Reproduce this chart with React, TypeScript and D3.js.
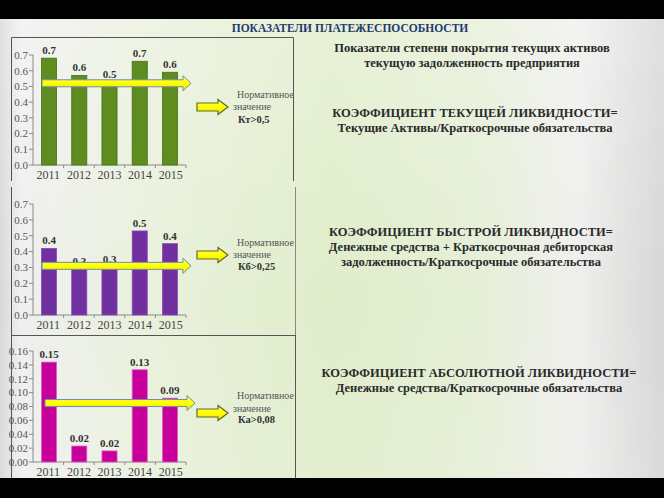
import React from 'react';
import * as d3 from 'd3';

const years = ['2011', '2012', '2013', '2014', '2015'];

const currentValues = [0.68, 0.57, 0.53, 0.66, 0.59];
const currentLabels = ['0.7', '0.6', '0.5', '0.7', '0.6'];
const currentTicks = [0, 0.1, 0.2, 0.3, 0.4, 0.5, 0.6, 0.7];
const currentNorm = 0.52;

const quickValues = [0.42, 0.29, 0.3, 0.53, 0.45];
const quickLabels = ['0.4', '0.3', '0.3', '0.5', '0.4'];
const quickTicks = [0, 0.1, 0.2, 0.3, 0.4, 0.5, 0.6, 0.7];
const quickNorm = 0.31;

const absoluteValues = [0.144, 0.023, 0.016, 0.133, 0.092];
const absoluteLabels = ['0.15', '0.02', '0.02', '0.13', '0.09'];
const absoluteTicks = [0, 0.02, 0.04, 0.06, 0.08, 0.1, 0.12, 0.14, 0.16];
const absoluteNorm = 0.085;

const normLines1 = ['Нормативное', 'значение', 'Кт>0,5'];
const normLines2 = ['Нормативное', 'значение', 'Кб>0,25'];
const normLines3 = ['Нормативное', 'значение', 'Ка>0,08'];

const title = 'ПОКАЗАТЕЛИ ПЛАТЕЖЕСПОСОБНОСТИ';
const introLines = ['Показатели степени покрытия текущих активов', 'текущую задолженность предприятия'];
const formula1 = ['КОЭФФИЦИЕНТ ТЕКУЩЕЙ ЛИКВИДНОСТИ=', 'Текущие Активы/Краткосрочные обязательства'];
const formula2 = [
  'КОЭФФИЦИЕНТ БЫСТРОЙ ЛИКВИДНОСТИ=',
  'Денежные средства + Краткосрочная дебиторская',
  'задолженность/Краткосрочные обязательства',
];
const formula3 = ['КОЭФФИЦИЕНТ АБСОЛЮТНОЙ ЛИКВИДНОСТИ=', 'Денежные средства/Краткосрочные обязательства'];

const SERIF = "'Liberation Serif', 'Times New Roman', 'DejaVu Serif', serif";

function arrowPath(x0: number, x1: number, yc: number, shaft: number, head: number, headLen: number) {
  const p = d3.path();
  const hx = x1 - headLen;
  p.moveTo(x0, yc - shaft / 2);
  p.lineTo(hx, yc - shaft / 2);
  p.lineTo(hx, yc - head / 2);
  p.lineTo(x1, yc);
  p.lineTo(hx, yc + head / 2);
  p.lineTo(hx, yc + shaft / 2);
  p.lineTo(x0, yc + shaft / 2);
  p.closePath();
  return p.toString();
}

type ChartProps = {
  values: number[];
  labels: string[];
  ticks: number[];
  fmt: string;
  max: number;
  y0: number;
  yTop: number;
  color: string;
  stroke: string;
  norm: number;
  arrowX0: number;
  arrowX1: number;
  smallY: number;
  normLines: string[];
  normY: number[];
};

function Chart(p: ChartProps) {
  const x = d3.scaleBand<string>().domain(years).range([33, 186]).paddingInner(0.5).paddingOuter(0.28);
  const xb = d3.scaleBand<string>().domain(years).range([33, 186]);
  const y = d3.scaleLinear().domain([0, p.max]).range([p.y0, p.yTop]);
  const f = d3.format(p.fmt);
  const ay = y(p.norm);
  return (
    <g>
      <line x1={33} x2={33} y1={p.y0} y2={p.yTop} stroke="#8a8a8a" />
      <line x1={33} x2={186} y1={p.y0} y2={p.y0} stroke="#8a8a8a" />
      {p.ticks.map((t) => (
        <g key={t}>
          <line x1={29} x2={33} y1={y(t)} y2={y(t)} stroke="#8a8a8a" />
          <text x={28} y={y(t)} dy="0.35em" textAnchor="end" fontSize={11} fill="#555">
            {f(t)}
          </text>
        </g>
      ))}
      {years.map((yr) => (
        <line key={'t' + yr} x1={(xb(yr) as number) + xb.bandwidth()} x2={(xb(yr) as number) + xb.bandwidth()} y1={p.y0} y2={p.y0 + 3} stroke="#8a8a8a" />
      ))}
      {years.map((yr, i) => (
        <g key={yr}>
          <rect x={x(yr)} y={y(p.values[i])} width={x.bandwidth()} height={p.y0 - y(p.values[i])} fill={p.color} stroke={p.stroke} strokeWidth={0.8} />
          <text x={(x(yr) as number) + x.bandwidth() / 2} y={y(p.values[i]) - 4} textAnchor="middle" fontSize={11} fontWeight="bold" fill="#333">
            {p.labels[i]}
          </text>
          <text x={(xb(yr) as number) + xb.bandwidth() / 2} y={p.y0 + 14} textAnchor="middle" fontSize={12} fill="#444">
            {yr}
          </text>
        </g>
      ))}
      <path d={arrowPath(p.arrowX0, p.arrowX1, ay, 7, 15, 8)} fill="url(#yel)" stroke="#6f8ea6" strokeWidth={1} />
      <path d={arrowPath(197, 228, p.smallY, 8, 15, 10)} fill="url(#yel)" stroke="#66662a" strokeWidth={1.2} />
      <text x={237} y={p.normY[0]} fontSize={10} fill="#555">{p.normLines[0]}</text>
      <text x={233} y={p.normY[1]} fontSize={10} fill="#555">{p.normLines[1]}</text>
      <text x={238} y={p.normY[2]} fontSize={10.5} fontWeight="bold" fill="#333">{p.normLines[2]}</text>
    </g>
  );
}

function Lines({ lines, cx, y0, dy, weights }: { lines: string[]; cx: number; y0: number; dy: number; weights: string[] }) {
  return (
    <g>
      {lines.map((l, i) => (
        <text key={i} x={cx} y={y0 + i * dy} textAnchor="middle" fontSize={12.5} fontWeight={weights[i]} fill="#2a2a2a">
          {l}
        </text>
      ))}
    </g>
  );
}

export default function App() {
  return (
    <svg width={664} height={498} style={{ position: 'absolute', left: 0, top: 0, fontFamily: SERIF }}>
      <defs>
        <linearGradient id="bg" x1="0" x2="1" y1="0" y2="0">
          <stop offset="0" stopColor="#d8d8d8" />
          <stop offset="0.03" stopColor="#efefef" />
          <stop offset="0.2" stopColor="#eaf1de" />
          <stop offset="0.5" stopColor="#e0edca" />
          <stop offset="0.72" stopColor="#e5efd6" />
          <stop offset="0.87" stopColor="#efefed" />
          <stop offset="1" stopColor="#d6d6d6" />
        </linearGradient>
        <linearGradient id="bgv" x1="0" x2="0" y1="0" y2="1">
          <stop offset="0" stopColor="#ffffff" stopOpacity="0.25" />
          <stop offset="0.6" stopColor="#ffffff" stopOpacity="0" />
          <stop offset="1" stopColor="#ffffff" stopOpacity="0.1" />
        </linearGradient>
        <linearGradient id="yel" x1="0" x2="0" y1="0" y2="1">
          <stop offset="0" stopColor="#ffff66" />
          <stop offset="0.5" stopColor="#ffff00" />
          <stop offset="1" stopColor="#e8e800" />
        </linearGradient>
      </defs>
      <rect x={0} y={0} width={664} height={498} fill="url(#bg)" />
      <rect x={0} y={0} width={664} height={498} fill="url(#bgv)" />

      <path d="M11.5,181 V37.5 H293.5 V181" fill="none" stroke="#555" />
      <line x1={11.5} x2={11.5} y1={187} y2={335} stroke="#555" />
      <line x1={295.5} x2={295.5} y1={187} y2={335} stroke="#888" />
      <rect x={11.5} y={335.5} width={284} height={160} fill="none" stroke="#555" />

      <text x={350} y={32} textAnchor="middle" fontSize={11.5} fontWeight="bold" fill="#1f3a6e">
        {title}
      </text>

      <Chart values={currentValues} labels={currentLabels} ticks={currentTicks} fmt=".1f" max={0.7} y0={165} yTop={55}
        color="#5e8c1f" stroke="#4a7016" norm={currentNorm} arrowX0={42} arrowX1={191} smallY={107}
        normLines={normLines1} normY={[98, 110, 123]} />
      <Chart values={quickValues} labels={quickLabels} ticks={quickTicks} fmt=".1f" max={0.7} y0={315} yTop={204}
        color="#7030a0" stroke="#8a4cb8" norm={quickNorm} arrowX0={42} arrowX1={191} smallY={255}
        normLines={normLines2} normY={[246, 258, 270]} />
      <Chart values={absoluteValues} labels={absoluteLabels} ticks={absoluteTicks} fmt=".2f" max={0.16} y0={462} yTop={351}
        color="#c8009b" stroke="#e060c0" norm={absoluteNorm} arrowX0={45} arrowX1={195} smallY={413}
        normLines={normLines3} normY={[399, 412, 423]} />

      <Lines lines={introLines} cx={472} y0={52} dy={15} weights={['bold', 'bold']} />
      <Lines lines={formula1} cx={475} y0={117} dy={15} weights={['600', 'bold']} />
      <Lines lines={formula2} cx={471} y0={236} dy={15} weights={['600', 'bold', 'bold']} />
      <Lines lines={formula3} cx={479} y0={377} dy={15} weights={['600', 'bold']} />

      <rect x={0} y={0} width={664} height={19} fill="#000" />
      <rect x={0} y={478} width={664} height={20} fill="#000" />
    </svg>
  );
}
